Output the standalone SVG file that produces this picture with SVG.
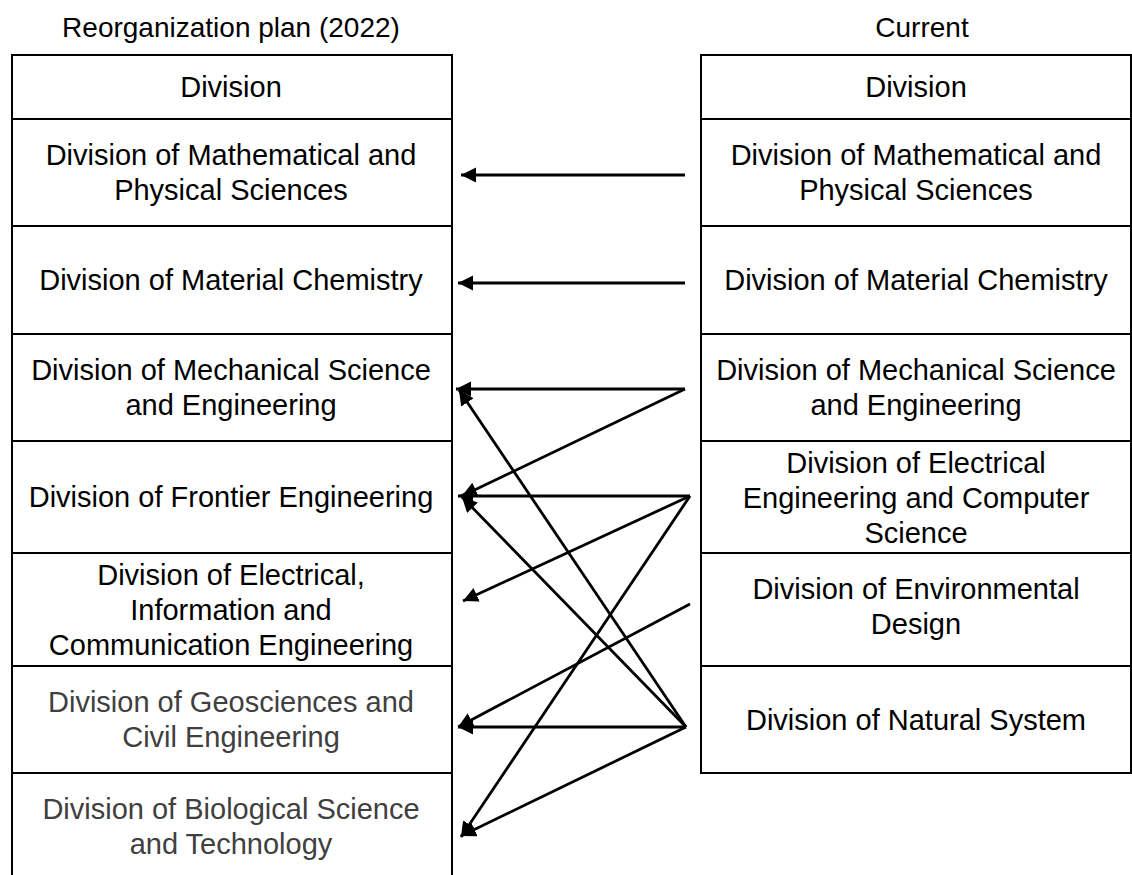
<svg xmlns="http://www.w3.org/2000/svg" width="1132" height="875" viewBox="0 0 1132 875">
<style>
.cell{fill:#fff;stroke:#000;stroke-width:2}
.t{font-family:"Liberation Sans",Arial,sans-serif;font-size:29px;fill:#000;text-anchor:middle}
.g{fill:#404040}
.title{font-family:"Liberation Sans",Arial,sans-serif;font-size:28px;fill:#000;text-anchor:middle}
.c{stroke:#000;stroke-width:2.8;fill:none;marker-end:url(#ah)}
</style>
<defs>
<marker id="ah" markerUnits="userSpaceOnUse" markerWidth="17" markerHeight="17" refX="15" refY="7.5" orient="auto">
<path d="M0,0 L15,7.5 L0,15 z" fill="#000"/>
</marker>
</defs>
<rect width="1132" height="875" fill="#fff"/>
<text class="title" x="231" y="37">Reorganization plan (2022)</text>
<text class="title" x="922" y="37">Current</text>

<g id="L-header"><rect class="cell" x="12" y="55" width="440" height="64"/><text class="t" x="231" y="97">Division</text></g>
<g id="L-math"><rect class="cell" x="12" y="119" width="440" height="107"/><text class="t" x="231" y="165">Division of Mathematical and<tspan x="231" dy="35">Physical Sciences</tspan></text></g>
<g id="L-material"><rect class="cell" x="12" y="226" width="440" height="108"/><text class="t" x="231" y="290">Division of Material Chemistry</text></g>
<g id="L-mech"><rect class="cell" x="12" y="334" width="440" height="107"/><text class="t" x="231" y="380">Division of Mechanical Science<tspan x="231" dy="35">and Engineering</tspan></text></g>
<g id="L-frontier"><rect class="cell" x="12" y="441" width="440" height="112"/><text class="t" x="231" y="507">Division of Frontier Engineering</text></g>
<g id="L-electrical"><rect class="cell" x="12" y="553" width="440" height="113"/><text class="t" x="231" y="585">Division of Electrical,<tspan x="231" dy="35">Information and</tspan><tspan x="231" dy="35">Communication Engineering</tspan></text></g>
<g id="L-geo"><rect class="cell" x="12" y="666" width="440" height="107"/><text class="t g" x="231" y="712">Division of Geosciences and<tspan x="231" dy="35">Civil Engineering</tspan></text></g>
<g id="L-bio"><rect class="cell" x="12" y="773" width="440" height="110"/><text class="t g" x="231" y="819">Division of Biological Science<tspan x="231" dy="35">and Technology</tspan></text></g>

<g id="R-header"><rect class="cell" x="701" y="55" width="430" height="64"/><text class="t" x="916" y="97">Division</text></g>
<g id="R-math"><rect class="cell" x="701" y="119" width="430" height="107"/><text class="t" x="916" y="165">Division of Mathematical and<tspan x="916" dy="35">Physical Sciences</tspan></text></g>
<g id="R-material"><rect class="cell" x="701" y="226" width="430" height="108"/><text class="t" x="916" y="290">Division of Material Chemistry</text></g>
<g id="R-mech"><rect class="cell" x="701" y="334" width="430" height="107"/><text class="t" x="916" y="380">Division of Mechanical Science<tspan x="916" dy="35">and Engineering</tspan></text></g>
<g id="R-eecs"><rect class="cell" x="701" y="441" width="430" height="112"/><text class="t" x="916" y="473">Division of Electrical<tspan x="916" dy="35">Engineering and Computer</tspan><tspan x="916" dy="35">Science</tspan></text></g>
<g id="R-env"><rect class="cell" x="701" y="553" width="430" height="113"/><text class="t" x="916" y="599">Division of Environmental<tspan x="916" dy="35">Design</tspan></text></g>
<g id="R-natural"><rect class="cell" x="701" y="666" width="430" height="107"/><text class="t" x="916" y="730">Division of Natural System</text></g>

<g id="connectors">
<line class="c" x1="685" y1="175" x2="461" y2="175"/>
<line class="c" x1="685" y1="283" x2="458" y2="283"/>
<line class="c" x1="685" y1="389" x2="456" y2="389"/>
<line class="c" x1="685" y1="389" x2="462" y2="496"/>
<line class="c" x1="690" y1="496" x2="458" y2="496"/>
<line class="c" x1="690" y1="496" x2="463" y2="601"/>
<line class="c" x1="690" y1="496" x2="461" y2="837"/>
<line class="c" x1="690" y1="604" x2="458" y2="727"/>
<line class="c" x1="686" y1="727" x2="458" y2="727"/>
<line class="c" x1="686" y1="727" x2="459" y2="390"/>
<line class="c" x1="686" y1="727" x2="462" y2="497"/>
<line class="c" x1="686" y1="727" x2="461" y2="836"/>
</g>
</svg>
